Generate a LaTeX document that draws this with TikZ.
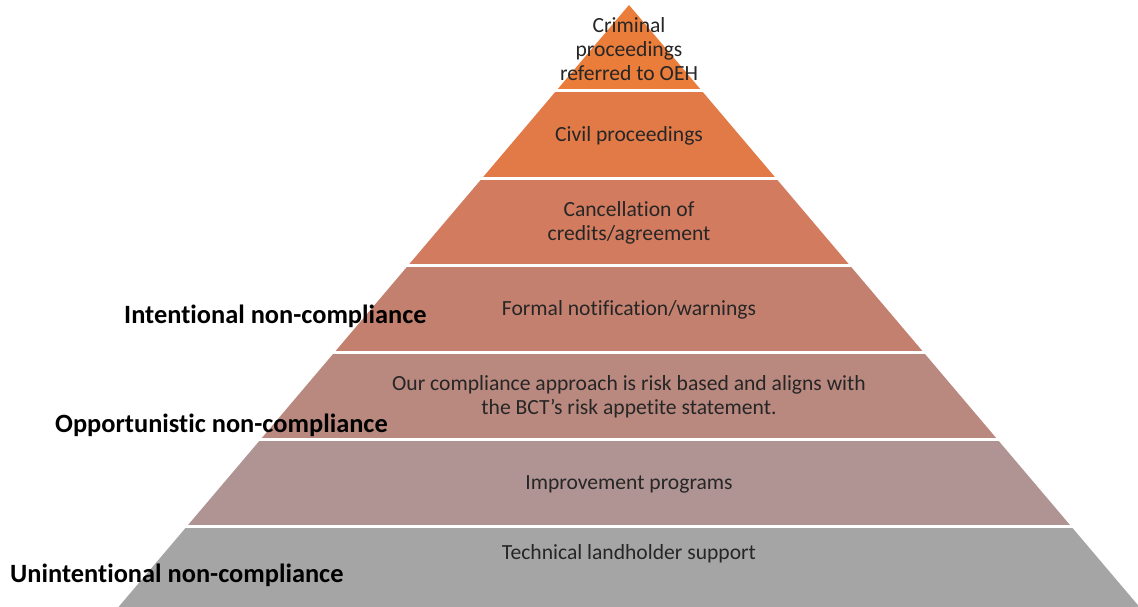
\documentclass[tikz,border=0pt]{standalone}
\usepackage{fontspec}
\setmainfont{Carlito}[Ligatures = NoCommon]
\usepackage{xcolor}

% layer colours, top to bottom
\definecolor{layerA}{RGB}{234,125,58}
\definecolor{layerB}{RGB}{226,122,72}
\definecolor{layerC}{RGB}{211,123,94}
\definecolor{layerD}{RGB}{196,128,111}
\definecolor{layerE}{RGB}{185,136,127}
\definecolor{layerF}{RGB}{175,148,147}
\definecolor{layerG}{RGB}{165,165,165}

\begin{document}
\begin{tikzpicture}[
    x = 1pt,
    y = -1pt,
    inner/.style = {align = center, text = black!85, font = \fontsize{21.6}{24}\selectfont},
    level/.style = {anchor = west, text = black, font = \fontsize{26.4}{30}\selectfont\bfseries, inner sep = 0pt}]
    \useasboundingbox (0,0) rectangle (1138,607);
    % LAYERS
    \foreach \top/\bot/\col in {5/91/layerA, 91/178/layerB, 178/265/layerC, 265/352/layerD,
                                352/439/layerE, 439/526/layerF, 526/607/layerG}
      \fill[\col] ({629-0.848*(\top-5)},\top) -- ({629-0.848*(\bot-5)},\bot)
                  -- ({629+0.848*(\bot-5)},\bot) -- ({629+0.848*(\top-5)},\top) -- cycle;
    % white gaps between layers
    \foreach \b in {91,178,265,352,439,526}
      \draw[white, line width = 3pt] ({627-0.848*(\b-5)},\b) -- ({631+0.848*(\b-5)},\b);

    % LAYER TEXTS
    \node[inner] (criminal) at (629,49) {Criminal\\proceedings\\referred to OEH};
    \node[inner] (civil) at (629,136) {Civil proceedings};
    \node[inner] (cancel) at (629,223) {Cancellation of\\credits/agreement};
    \node[inner] (formal) at (629,310) {Formal notification/warnings};
    \node[inner] (approach) at (629,397) {Our compliance approach is risk based and aligns with\\the BCT’s risk appetite statement.};
    \node[inner] (improve) at (629,484) {Improvement programs};
    \node[inner] (support) at (629,554) {Technical landholder support};

    % SIDE LABELS
    \node[level] (intent) at (124,316) {Intentional non-compliance};
    \node[level] (opport) at (55,425) {Opportunistic non-compliance};
    \node[level] (unintent) at (10,575) {Unintentional non-compliance};
\end{tikzpicture}
\end{document}
